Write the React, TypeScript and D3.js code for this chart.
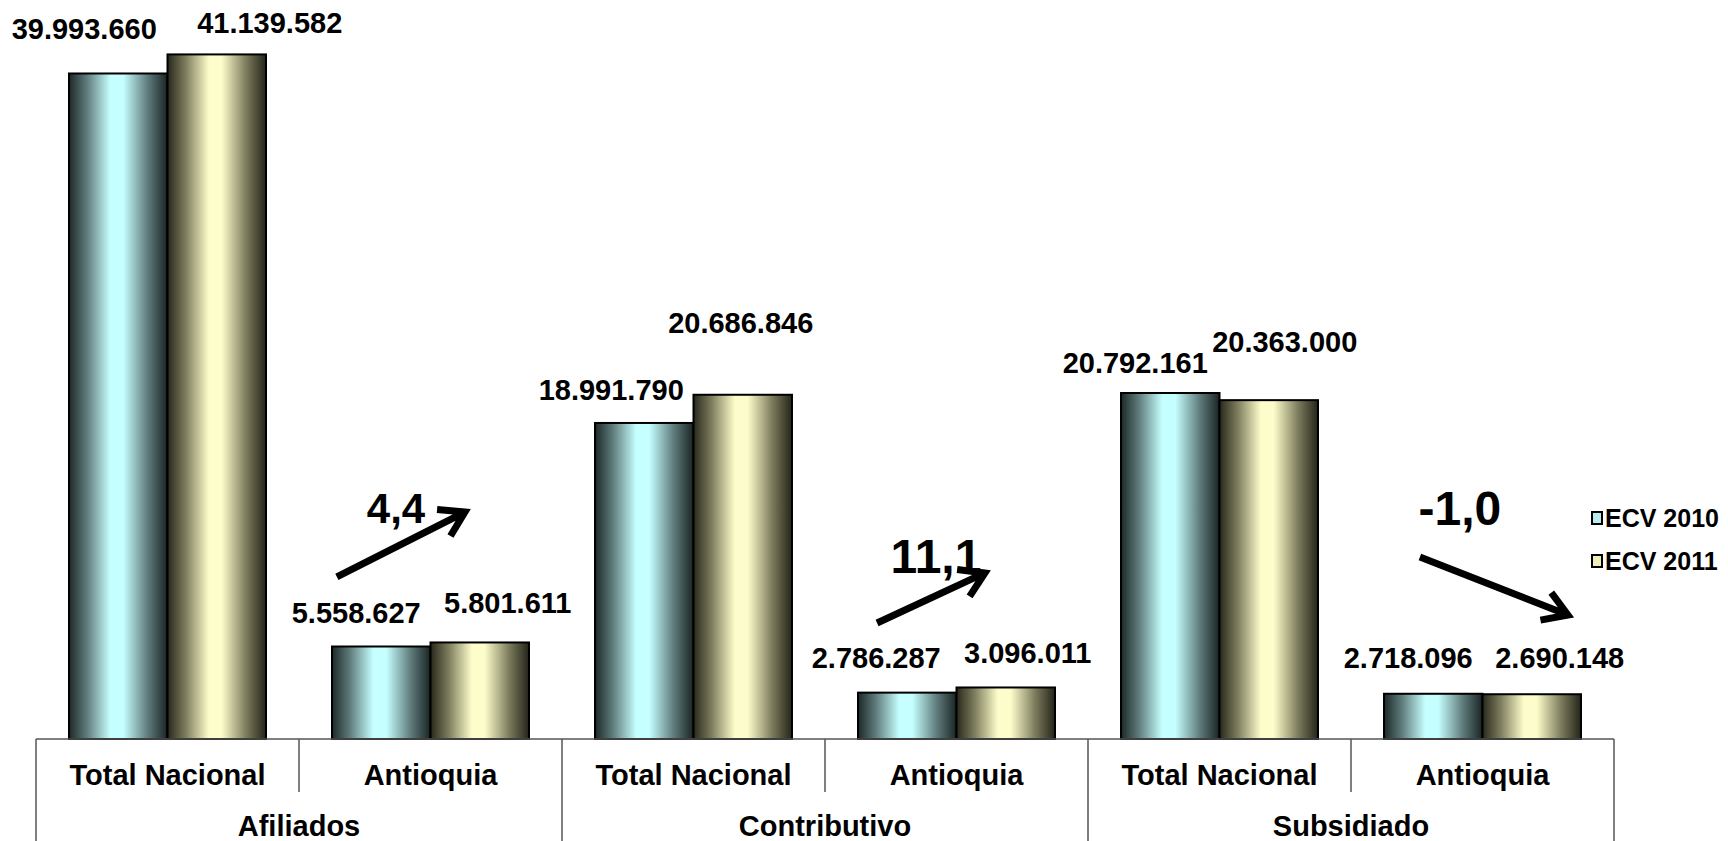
import React from "react";
import * as d3 from "d3";

const groups = ["Afiliados", "Contributivo", "Subsidiado"];
const categories = [
  "Total Nacional", "Antioquia",
  "Total Nacional", "Antioquia",
  "Total Nacional", "Antioquia",
];
const seriesNames = ["ECV 2010", "ECV 2011"];
const ecv2010 = [39993660, 5558627, 18991790, 2786287, 20792161, 2718096];
const ecv2011 = [41139582, 5801611, 20686846, 3096011, 20363000, 2690148];
const labels2010 = ["39.993.660", "5.558.627", "18.991.790", "2.786.287", "20.792.161", "2.718.096"];
const labels2011 = ["41.139.582", "5.801.611", "20.686.846", "3.096.011", "20.363.000", "2.690.148"];

// change annotations (text, category index, positions within band as fraction / value units)
const changeTexts = ["4,4", "11,1", "-1,0"];
const changeCats = [1, 3, 5];
const changeTextPos = [[0.369, 13.0e6], [0.422, 9.98e6], [0.414, 12.86e6]];
const changeArrowTail = [[0.144, 9.74e6], [0.198, 6.97e6], [0.262, 10.94e6]];
const changeArrowTip = [[0.631, 13.64e6], [0.608, 9.98e6], [0.825, 7.45e6]];

// layout (label nudges: dx from bar centre, gap above bar top)
const labelDx = [[-34, 53], [-25, 28], [-33, -2], [-31, 22], [-35, 16], [-25, 28]];
const labelGap = [[34, 21], [24, 29], [23, 62], [25, 24], [20, 48], [26, 26]];

const W = 1728;
const H = 841;
const left = 36;
const right = 1614;
const base = 739;
const yMax = 44.41e6;

const font = "'Liberation Sans', Arial, sans-serif";

export default function App() {
  const x = d3.scaleBand<number>().domain(d3.range(categories.length)).range([left, right]);
  const bw = x.bandwidth();
  const xs = d3.scaleBand<string>().domain(seriesNames).range([0, bw]).paddingOuter(0.335).paddingInner(0);
  const y = d3.scaleLinear().domain([0, yMax]).range([base, 0]);
  const series = [ecv2010, ecv2011];
  const seriesLabels = [labels2010, labels2011];
  const gradIds = ["g2010", "g2011"];

  const arrowPath = (t: number[], h: number[], cat: number) => {
    const x0 = (x(cat) as number) + t[0] * bw;
    const y0 = y(t[1]);
    const x1 = (x(cat) as number) + h[0] * bw;
    const y1 = y(h[1]);
    const ang = Math.atan2(y1 - y0, x1 - x0);
    const L = 28;
    const a = (32 * Math.PI) / 180;
    const b1 = [x1 - L * Math.cos(ang - a), y1 - L * Math.sin(ang - a)];
    const b2 = [x1 - L * Math.cos(ang + a), y1 - L * Math.sin(ang + a)];
    return `M${x0},${y0}L${x1},${y1}M${b1[0]},${b1[1]}L${x1},${y1}L${b2[0]},${b2[1]}`;
  };

  return (
    <svg
      width={W}
      height={H}
      style={{ position: "absolute", left: 0, top: 0, background: "#fff" }}
      fontFamily={font}
    >
      <defs>
        <linearGradient id="g2010" x1="0" x2="1" y1="0" y2="0">
          <stop offset="0" stopColor="#1c2828" />
          <stop offset="0.18" stopColor="#5f7b7b" />
          <stop offset="0.42" stopColor="#c6ffff" />
          <stop offset="0.55" stopColor="#c6ffff" />
          <stop offset="0.8" stopColor="#5f7b7b" />
          <stop offset="1" stopColor="#1a2424" />
        </linearGradient>
        <linearGradient id="g2011" x1="0" x2="1" y1="0" y2="0">
          <stop offset="0" stopColor="#28281c" />
          <stop offset="0.18" stopColor="#7b7b5c" />
          <stop offset="0.42" stopColor="#fdfdcb" />
          <stop offset="0.55" stopColor="#fdfdcb" />
          <stop offset="0.8" stopColor="#7b7b5c" />
          <stop offset="1" stopColor="#24241a" />
        </linearGradient>
      </defs>

      {/* bars */}
      {series.map((vals, si) =>
        vals.map((v, ci) => (
          <rect
            key={`b${si}-${ci}`}
            x={(x(ci) as number) + (xs(seriesNames[si]) as number)}
            y={y(v)}
            width={xs.bandwidth()}
            height={base - y(v)}
            fill={`url(#${gradIds[si]})`}
            stroke="#000"
            strokeWidth={2}
          />
        ))
      )}

      {/* value labels */}
      {series.map((vals, si) =>
        vals.map((v, ci) => (
          <text
            key={`l${si}-${ci}`}
            x={(x(ci) as number) + (xs(seriesNames[si]) as number) + xs.bandwidth() / 2 + labelDx[ci][si]}
            y={y(v) - labelGap[ci][si]}
            textAnchor="middle"
            fontSize={29}
            fontWeight="bold"
            fill="#000"
          >
            {seriesLabels[si][ci]}
          </text>
        ))
      )}

      {/* axis */}
      <line x1={left} x2={right} y1={base} y2={base} stroke="#555" strokeWidth={1.5} />
      {d3.range(groups.length + 1).map((g) => {
        const gx = g < groups.length ? (x(g * 2) as number) : right;
        return <line key={`gd${g}`} x1={gx} x2={gx} y1={base} y2={H} stroke="#555" strokeWidth={1.5} />;
      })}
      {groups.map((_, g) => {
        const ix = x(g * 2 + 1) as number;
        return <line key={`id${g}`} x1={ix} x2={ix} y1={base} y2={792} stroke="#555" strokeWidth={1.5} />;
      })}
      {categories.map((c, ci) => (
        <text
          key={`c${ci}`}
          x={(x(ci) as number) + bw / 2}
          y={785}
          textAnchor="middle"
          fontSize={29}
          fontWeight="bold"
        >
          {c}
        </text>
      ))}
      {groups.map((g, gi) => (
        <text
          key={`g${gi}`}
          x={(x(gi * 2) as number) + bw}
          y={836}
          textAnchor="middle"
          fontSize={29}
          fontWeight="bold"
        >
          {g}
        </text>
      ))}

      {/* change annotations */}
      {changeTexts.map((t, i) => (
        <g key={`a${i}`}>
          <path
            d={arrowPath(changeArrowTail[i], changeArrowTip[i], changeCats[i])}
            fill="none"
            stroke="#000"
            strokeWidth={7}
            strokeLinejoin="miter"
          />
          <text
            x={(x(changeCats[i]) as number) + changeTextPos[i][0] * bw}
            y={y(changeTextPos[i][1])}
            textAnchor="middle"
            fontSize={i === 0 ? 42 : 48}
            fontWeight="bold"
          >
            {t}
          </text>
        </g>
      ))}

      {/* legend */}
      {seriesNames.map((s, si) => (
        <g key={`lg${si}`} transform={`translate(1592, ${518 + si * 43})`}>
          <rect x={0} y={-6} width={10} height={12} fill={si === 0 ? "#b8ecee" : "#eeeeb8"} stroke="#000" strokeWidth={2} />
          <text x={13} y={9} fontSize={25} fontWeight="bold">
            {s}
          </text>
        </g>
      ))}
    </svg>
  );
}
